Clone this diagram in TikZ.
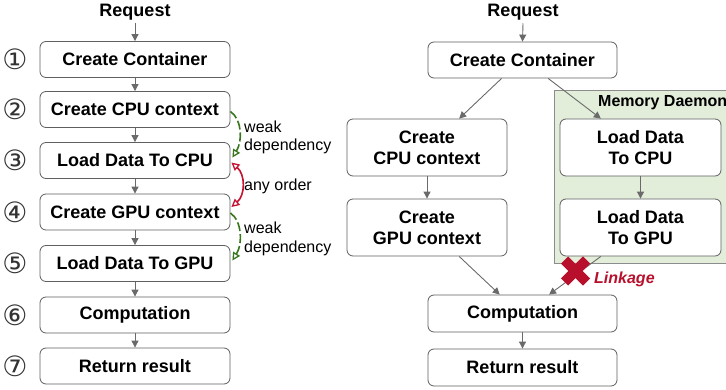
\documentclass[tikz,border=0pt]{standalone}
\usepackage{fontspec}
\setmainfont{Liberation Sans}
\newfontfamily\circfont{DejaVu Sans}
\usetikzlibrary{arrows.meta,calc}
\definecolor{boxline}{HTML}{5F5F5F}
\definecolor{arrowgray}{HTML}{6A6A6A}
\definecolor{daemonfill}{HTML}{E2EEDA}
\definecolor{daemonline}{HTML}{8C8C8C}
\definecolor{weakgreen}{HTML}{38761D}
\definecolor{anyred}{HTML}{C41230}
\definecolor{linkred}{HTML}{B8102C}
\begin{document}
\begin{tikzpicture}[x=1pt,y=-1pt,
  stepbox/.style={draw=boxline, line width=0.8pt, rounded corners=6pt, fill=white,
    align=center, inner sep=0pt, font=\bfseries\fontsize{18}{21}\selectfont},
  smallbox/.style={stepbox, minimum width=190pt, minimum height=36pt},
  tallbox/.style={stepbox, minimum width=160pt, minimum height=57pt},
  flow/.style={draw=arrowgray, line width=0.9pt, -{Triangle[length=7pt,width=7pt]}},
  titletext/.style={font=\bfseries\fontsize{18}{21}\selectfont, inner sep=0pt},
  numtext/.style={font=\circfont\fontsize{28}{30}\selectfont, text=black!80, inner sep=0pt},
  notetext/.style={font=\fontsize{16}{18.5}\selectfont, align=left, inner sep=0pt, anchor=west},
  weakarrow/.style={draw=weakgreen, line width=1.6pt, dash pattern=on 9pt off 3pt,
    -{Triangle[open,length=8pt,width=8pt,line width=1.3pt]}},
  orderarrow/.style={draw=anyred, line width=1.6pt,
    {Triangle[open,length=8pt,width=8pt,line width=1.3pt]}-{Triangle[open,length=8pt,width=8pt,line width=1.3pt]}}
]
\useasboundingbox (0,0) rectangle (726,390);

% ---------- left column ----------
\node[titletext] (lreq) at (135,12) {Request};
\node[smallbox] (b1) at (135,59.5) {Create Container};
\node[smallbox] (b2) at (135,109.5) {Create CPU context};
\node[smallbox] (b3) at (135,160.5) {Load Data To CPU};
\node[smallbox] (b4) at (135,212) {Create GPU context};
\node[smallbox] (b5) at (135,263.5) {Load Data To GPU};
\node[smallbox] (b6) at (135,315) {Computation};
\node[smallbox] (b7) at (135,366) {Return result};

\node[numtext] (n1) at (15,59.5) {①};
\node[numtext] (n2) at (15,109.5) {②};
\node[numtext] (n3) at (15,160.5) {③};
\node[numtext] (n4) at (15,212) {④};
\node[numtext] (n5) at (15,263.5) {⑤};
\node[numtext] (n6) at (15,315) {⑥};
\node[numtext] (n7) at (15,366) {⑦};

\draw[flow] ($(lreq.south)+(0,3)$) -- (b1.north);
\draw[flow] (b1) -- (b2);
\draw[flow] (b2) -- (b3);
\draw[flow] (b3) -- (b4);
\draw[flow] (b4) -- (b5);
\draw[flow] (b5) -- (b6);
\draw[flow] (b6) -- (b7);

\coordinate (g1s) at ($(b2.east)+(0,2)$);
\coordinate (g1e) at ($(b3.east)+(2,-3)$);
\draw[weakarrow] (g1s) .. controls ($(g1s)+(12,8)$) and ($(g1e)+(10,-16)$) .. (g1e);
\coordinate (r1s) at ($(b3.east)+(1,2)$);
\coordinate (r1e) at ($(b4.east)+(1,-5)$);
\draw[orderarrow] (r1s) .. controls ($(r1s)+(14,12)$) and ($(r1e)+(14,-12)$) .. (r1e);
\coordinate (g2s) at ($(b4.east)+(0,1)$);
\coordinate (g2e) at ($(b5.east)+(2,-3)$);
\draw[weakarrow] (g2s) .. controls ($(g2s)+(12,8)$) and ($(g2e)+(10,-16)$) .. (g2e);

\node[notetext] (w1) at (244,137.5) {weak\\dependency};
\node[notetext] (ao) at (244,186) {any order};
\node[notetext] (w2) at (244,239) {weak\\dependency};

% ---------- right column ----------
\node[titletext] (rreq) at (523,12) {Request};
\fill[daemonfill] (554,90) rectangle (730,263);
\draw[daemonline, line width=0.8pt] (730,90) -- (554,90) -- (554,263) -- (730,263);
\node[font=\bfseries\fontsize{16}{18}\selectfont, inner sep=0pt, anchor=west] (md) at (598,103) {Memory Daemon};

\node[smallbox, minimum width=189pt] (cc) at (522.5,60) {Create Container};
\node[tallbox] (cpu) at (427,147.5) {Create\\CPU context};
\node[tallbox] (gpu) at (427,227.5) {Create\\GPU context};
\node[tallbox, minimum width=161pt] (lcpu) at (640.5,147.5) {Load Data\\To CPU};
\node[tallbox, minimum width=161pt] (lgpu) at (640.5,227.5) {Load Data\\To GPU};
\node[smallbox, minimum width=189pt, minimum height=37pt] (comp) at (522.5,313.5) {Computation};
\node[smallbox, minimum width=189pt, minimum height=37pt] (ret) at (522.5,367.5) {Return result};

\draw[flow] ($(rreq.south)+(0,3)$) -- (cc.north);
\draw[flow] ($(cc.south west)!0.39!(cc.south east)$) -- ($(cpu.north west)!0.7!(cpu.north east)$);
\draw[flow] ($(cc.south west)!0.635!(cc.south east)$) -- ($(lcpu.north west)!0.255!(lcpu.north east)$);
\draw[flow] (cpu) -- (gpu);
\draw[flow] (lcpu) -- (lgpu);
\draw[flow] ($(gpu.south west)!0.7!(gpu.south east)$) -- ($(comp.north west)!0.38!(comp.north east)$);
\draw[flow] ($(lgpu.south west)!0.255!(lgpu.south east)$) -- ($(comp.north west)!0.64!(comp.north east)$);
\draw[flow] (comp) -- (ret);

% red cross
\coordinate (xc) at (575.5,271);
\draw[linkred, line width=10pt] ($(xc)+(-11,-11)$) -- ($(xc)+(11,11)$);
\draw[linkred, line width=10pt] ($(xc)+(-11,11)$) -- ($(xc)+(11,-11)$);
\node[font=\bfseries\itshape\fontsize{16}{18}\selectfont, text=linkred, inner sep=0pt, anchor=west] (lk) at (594,279) {Linkage};
\end{tikzpicture}
\end{document}
